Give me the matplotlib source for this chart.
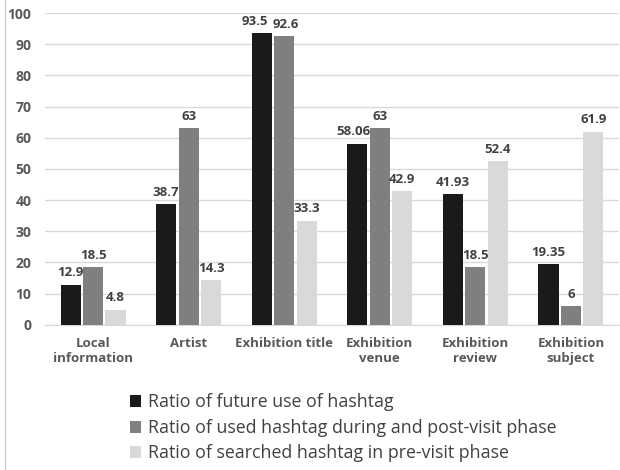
import matplotlib.pyplot as plt
import numpy as np
from matplotlib.lines import Line2D

plt.rcParams['font.family'] = ['Open Sans', 'DejaVu Sans']

categories = ["Local\ninformation", "Artist", "Exhibition title",
              "Exhibition\nvenue", "Exhibition\nreview", "Exhibition\nsubject"]
future_use = [12.9, 38.7, 93.5, 58.06, 41.93, 19.35]
used_during_post = [18.5, 63, 92.6, 63, 18.5, 6]
searched_pre = [4.8, 14.3, 33.3, 42.9, 52.4, 61.9]
series_names = ["Ratio of future use of hashtag",
                "Ratio of used hashtag during and post-visit phase",
                "Ratio of searched hashtag in pre-visit phase"]
yticks = [0, 10, 20, 30, 40, 50, 60, 70, 80, 90, 100]

colors = ['#1a1a1a', '#7f7f7f', '#d9d9d9']
label_color = '#404040'

# sideways nudges (points) for value labels that would collide
nudge = {(0, 2): -5, (0, 3): -3, (1, 2): 1}

fig = plt.figure(figsize=(6.2, 4.7), dpi=100)
ax = fig.add_axes([0.073, 0.309, 0.925, 0.663])

x = np.arange(len(categories))
width = 0.21
step = 0.235
bars = []
for i, vals in enumerate([future_use, used_during_post, searched_pre]):
    b = ax.bar(x + (i - 1) * step, vals, width, color=colors[i], zorder=3,
               label=series_names[i])
    bars.append(b)
    for j, (rect, v) in enumerate(zip(b, vals)):
        ax.annotate(f"{v:g}", (rect.get_x() + rect.get_width() / 2, v),
                    xytext=(nudge.get((i, j), 0), 4), textcoords='offset points',
                    ha='center', va='bottom', fontsize=9.5, fontweight='bold',
                    color=label_color)

ax.set_xlim(-0.5, len(categories) - 0.5)
ax.set_ylim(0, 100)
ax.set_yticks(yticks)
ax.set_yticklabels([str(t) for t in yticks], fontsize=10, fontweight='bold',
                   color='#595959')
ax.set_xticks(x)
ax.set_xticklabels(categories, fontsize=9.5, fontweight='bold', color='#595959',
                   linespacing=1.2)
ax.tick_params(axis='both', length=0)
ax.tick_params(axis='y', pad=10)
ax.tick_params(axis='x', pad=9)
ax.grid(axis='y', color='#d9d9d9', linewidth=1, zorder=0)
for side in ['top', 'right', 'left']:
    ax.spines[side].set_visible(False)
ax.spines['bottom'].set_color('#d9d9d9')

# outer frame line on the left edge
fig.add_artist(Line2D([5 / 620, 5 / 620], [0, 1], color='#d0d0d0', linewidth=1))

fig.legend(handles=bars, labels=series_names, loc='upper left',
           bbox_to_anchor=(0.198, 0.178), frameon=False, fontsize=12.8,
           handlelength=0.65, handleheight=0.65, handletextpad=0.35,
           labelspacing=0.42, labelcolor=label_color, borderaxespad=0)

fig.savefig('out.png', dpi=100)
